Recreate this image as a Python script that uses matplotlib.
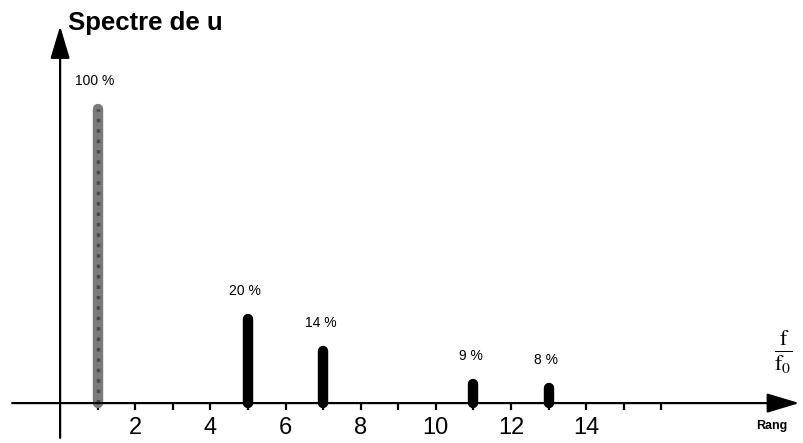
import matplotlib.pyplot as plt

# rangs des harmoniques et hauteurs
rangs = [1, 5, 7, 11, 13]
hauteurs = [98, 28, 17.5, 6.5, 5]
etiquettes = ['100 %', '20 %', '14 %', '9 %', '8 %']
couleurs = ['#7a7a7a', 'black', 'black', 'black', 'black']
graduations = list(range(1, 17))
labels_grad = ['', '2', '', '4', '', '6', '', '8', '', '10', '', '12', '', '14', '', '']

plt.rcParams['font.family'] = ['Liberation Sans', 'DejaVu Sans']

fig = plt.figure(figsize=(8.04, 4.43), dpi=100)
ax = fig.add_axes([0, 0, 1, 1])
ax.set_xlim(-1.6, 19.8)
ax.set_ylim(-13.3, 134.3)

for s in ['top', 'right', 'left']:
    ax.spines[s].set_visible(False)
ax.spines['bottom'].set_position(('data', 0))
ax.spines['bottom'].set_visible(False)

ax.set_yticks([])
ax.set_xticks(graduations)
ax.set_xticklabels(labels_grad)
ax.tick_params(axis='x', direction='out', length=5, width=1.6, pad=5, labelsize=17)

# axes avec fleches
fleche = dict(arrowstyle='-|>,head_length=1.0,head_width=0.3',
              mutation_scale=20, lw=1.6, color='black')
ax.annotate('', xy=(19.75, 0), xytext=(-1.35, 0), arrowprops=fleche)
ax.annotate('', xy=(0, 126.5), xytext=(0, -12.5), arrowprops=fleche)

# raies du spectre
for r, h, c, e in zip(rangs, hauteurs, couleurs, etiquettes):
    ax.plot([r, r], [0, h], color=c, lw=7.5, solid_capstyle='round')
    ax.annotate(e, xy=(r, h), xytext=(-2, 15), textcoords='offset points',
                ha='center', va='bottom', fontsize=10)

# texture pointillee (points sombres) de la raie fondamentale
ax.plot([rangs[0], rangs[0]], [0, hauteurs[0]], color='#4a4a4a', lw=2.5,
        linestyle=(0, (1, 2)))

ax.text(0.2, 126.5, 'Spectre de u', fontsize=18.5, fontweight='bold', va='center', ha='left')
ax.text(18.95, -7.5, 'Rang', fontsize=9, fontweight='bold', va='center', ha='center')
ax.text(19.25, 17, r'$\frac{\mathrm{f}}{\mathrm{f_0}}$', fontsize=23, va='center', ha='center',
        math_fontfamily='stix')

fig.savefig('out.png', dpi=100)
